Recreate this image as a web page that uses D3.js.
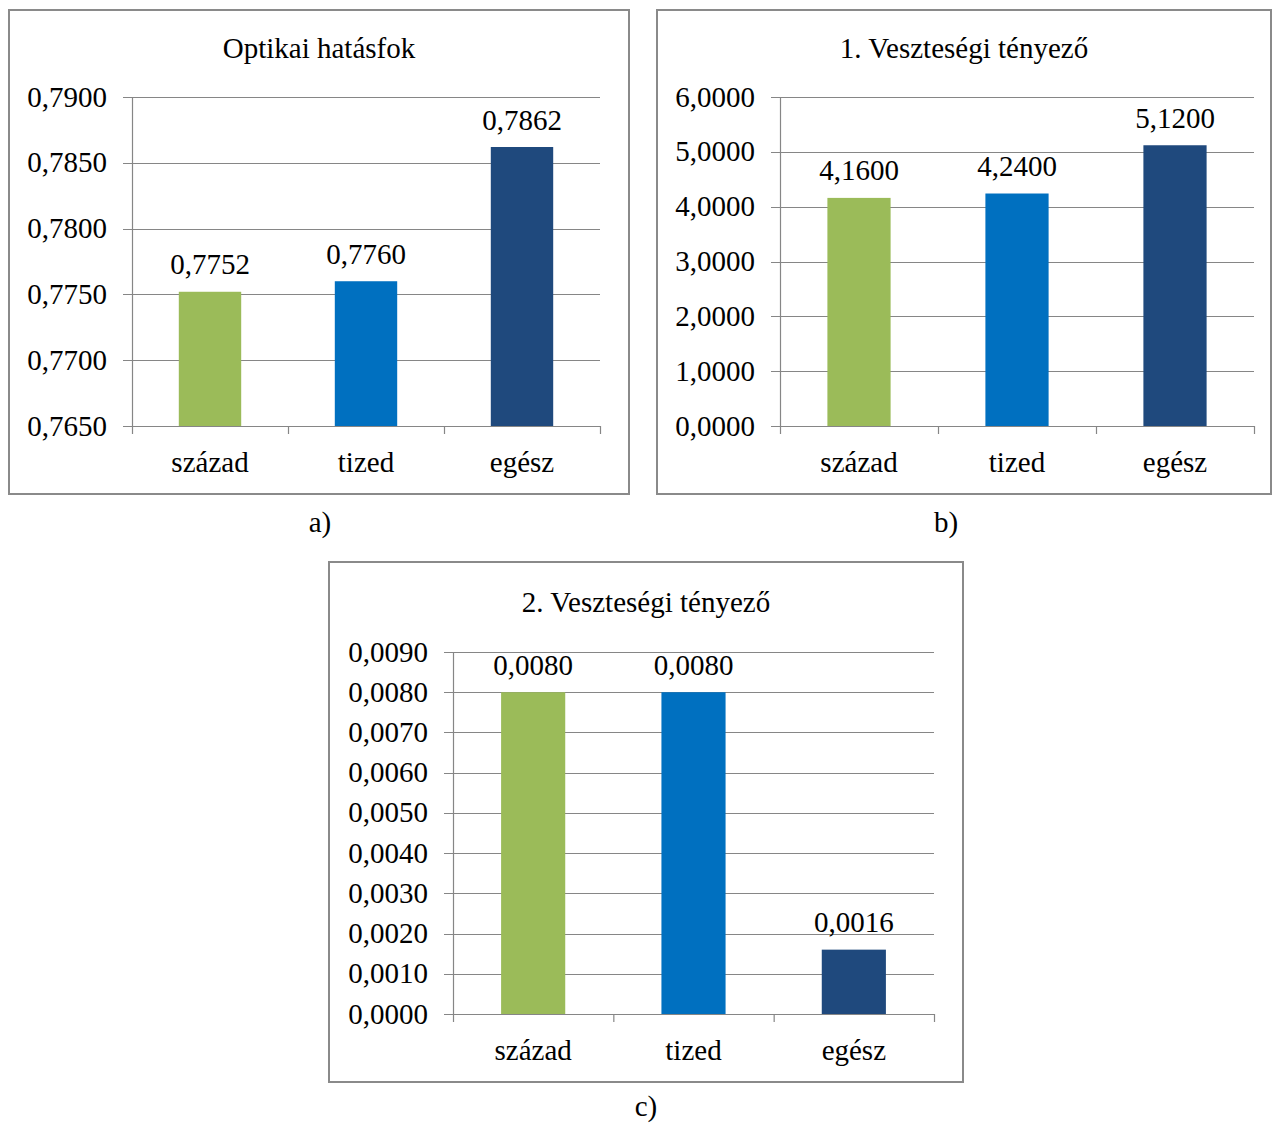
<!DOCTYPE html>
<html><head><meta charset="utf-8">
<script src="https://cdn.jsdelivr.net/npm/d3@7"></script>
<style>
html,body{margin:0;padding:0;background:#fff;}
svg text{font-family:"Liberation Serif","Times New Roman","DejaVu Serif",serif;fill:#000;}
</style></head>
<body>
<svg id="c" width="1272" height="1124"></svg>
<script>
const categories = ["század", "tized", "egész"];
const barColors = ["#9BBB59", "#0070C0", "#1F497D"];

const optikaiValues = [0.7752, 0.7760, 0.7862];
const optikaiTicks = [0.7650, 0.7700, 0.7750, 0.7800, 0.7850, 0.7900];

const veszteseg1Values = [4.16, 4.24, 5.12];
const veszteseg1Ticks = [0, 1, 2, 3, 4, 5, 6];

const veszteseg2Values = [0.0080, 0.0080, 0.0016];
const veszteseg2Ticks = [0, 0.001, 0.002, 0.003, 0.004, 0.005, 0.006, 0.007, 0.008, 0.009];

const titles = ["Optikai hatásfok", "1. Veszteségi tényező", "2. Veszteségi tényező"];
const captions = ["a)", "b)", "c)"];

const fmt = v => d3.format(".4f")(v).replace(".", ",");
const FS = 29;

const panels = [
  {title: titles[0], caption: captions[0], values: optikaiValues, ticks: optikaiTicks,
   frame: [9, 10, 620, 484], plot: [132, 600, 97, 426], titleY: 48, capX: 320, capY: 522},
  {title: titles[1], caption: captions[1], values: veszteseg1Values, ticks: veszteseg1Ticks,
   frame: [657, 10, 614, 484], plot: [780, 1254, 97, 426], titleY: 48, capX: 946, capY: 522},
  {title: titles[2], caption: captions[2], values: veszteseg2Values, ticks: veszteseg2Ticks,
   frame: [329, 562, 634, 520], plot: [453, 934, 652, 1014], titleY: 602, capX: 646, capY: 1106}
];

const svg = d3.select("#c");
const gridColor = "#868686";

panels.forEach(p => {
  const g = svg.append("g");
  const [fx, fy, fw, fh] = p.frame;
  const [x0, x1, yTop, yBot] = p.plot;
  g.append("rect").attr("x", fx).attr("y", fy).attr("width", fw).attr("height", fh)
    .attr("fill", "#fff").attr("stroke", "#8a8a8a").attr("stroke-width", 2);

  const y = d3.scaleLinear().domain(d3.extent(p.ticks)).range([yBot, yTop]);
  const x = d3.scaleBand().domain(categories).range([x0, x1]).paddingInner(0.6).paddingOuter(0.3);

  g.selectAll(".grid").data(p.ticks).enter().append("line")
    .attr("x1", x0 - 9).attr("x2", x1)
    .attr("y1", d => Math.round(y(d)) + 0.5).attr("y2", d => Math.round(y(d)) + 0.5)
    .attr("stroke", gridColor).attr("stroke-width", 1.2);

  g.append("line").attr("x1", x0 + 0.5).attr("x2", x0 + 0.5).attr("y1", yTop).attr("y2", yBot)
    .attr("stroke", gridColor).attr("stroke-width", 1.2);

  g.selectAll(".yl").data(p.ticks).enter().append("text")
    .attr("x", x0 - 25).attr("y", d => y(d)).attr("dy", "0.33em")
    .attr("text-anchor", "end").attr("font-size", FS).text(fmt);

  g.selectAll(".bar").data(p.values).enter().append("rect")
    .attr("x", (d, i) => x(categories[i])).attr("width", x.bandwidth())
    .attr("y", d => y(d)).attr("height", d => yBot - y(d))
    .attr("fill", (d, i) => barColors[i]);

  g.append("line").attr("x1", x0).attr("x2", x1).attr("y1", yBot + 0.5).attr("y2", yBot + 0.5)
    .attr("stroke", gridColor).attr("stroke-width", 1.2);
  const step = (x1 - x0) / categories.length;
  g.selectAll(".xt").data(d3.range(categories.length + 1)).enter().append("line")
    .attr("x1", i => x0 + i * step + 0.5).attr("x2", i => x0 + i * step + 0.5)
    .attr("y1", yBot).attr("y2", yBot + 8)
    .attr("stroke", gridColor).attr("stroke-width", 1.2);

  g.selectAll(".xl").data(categories).enter().append("text")
    .attr("x", d => x(d) + x.bandwidth() / 2).attr("y", yBot + 36)
    .attr("dy", "0.33em").attr("text-anchor", "middle").attr("font-size", FS).text(d => d);

  g.selectAll(".vl").data(p.values).enter().append("text")
    .attr("x", (d, i) => x(categories[i]) + x.bandwidth() / 2)
    .attr("y", d => y(d) - 27).attr("dy", "0.33em")
    .attr("text-anchor", "middle").attr("font-size", FS).text(fmt);

  g.append("text").attr("x", fx + fw / 2).attr("y", p.titleY).attr("dy", "0.33em")
    .attr("text-anchor", "middle").attr("font-size", FS).text(p.title);

  svg.append("text").attr("x", p.capX).attr("y", p.capY).attr("dy", "0.33em")
    .attr("text-anchor", "middle").attr("font-size", FS).text(p.caption);
});
</script>
</body></html>
